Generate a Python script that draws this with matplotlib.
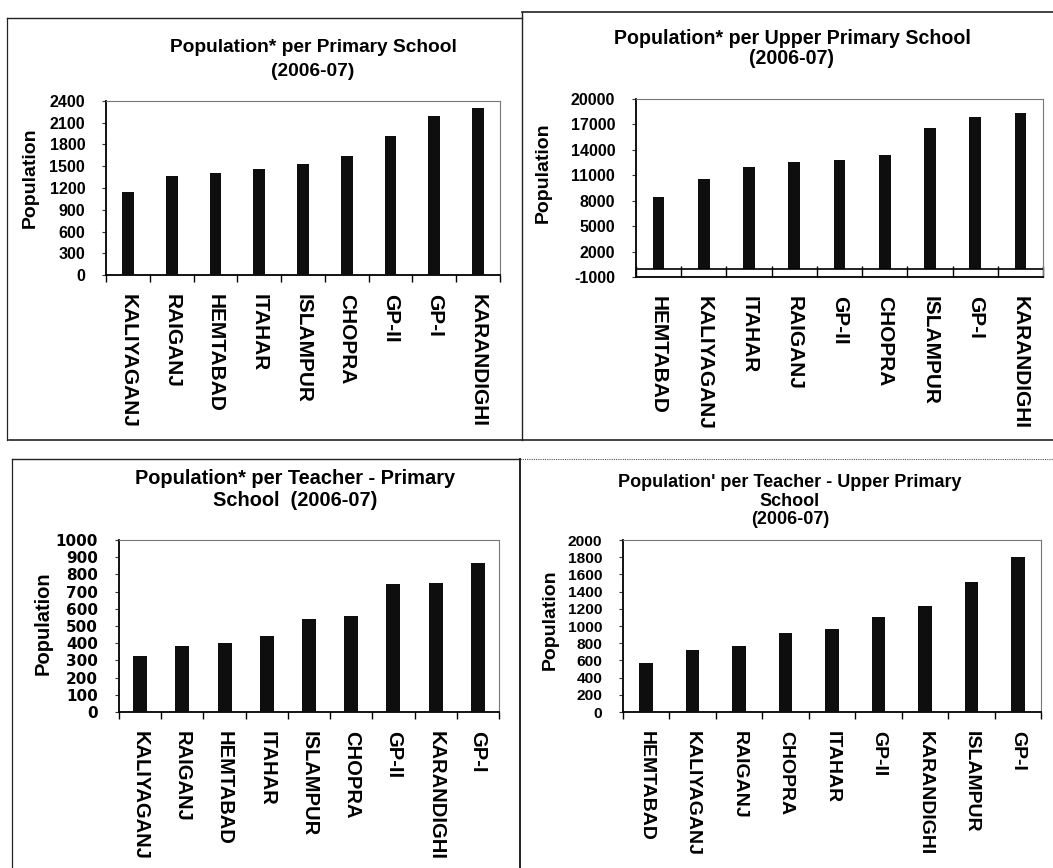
import matplotlib
matplotlib.use("Agg")
import matplotlib.pyplot as plt
from matplotlib import font_manager
from matplotlib.lines import Line2D
import numpy as np

# ---- data -------------------------------------------------------------
cats_ps = ["KALIYAGANJ", "RAIGANJ", "HEMTABAD", "ITAHAR", "ISLAMPUR",
           "CHOPRA", "GP-II", "GP-I", "KARANDIGHI"]
vals_ps = [1150, 1360, 1405, 1465, 1535, 1640, 1915, 2195, 2300]

cats_ups = ["HEMTABAD", "KALIYAGANJ", "ITAHAR", "RAIGANJ", "GP-II",
            "CHOPRA", "ISLAMPUR", "GP-I", "KARANDIGHI"]
vals_ups = [8450, 10550, 12000, 12550, 12800, 13400, 16550, 17900, 18400]

cats_tps = ["KALIYAGANJ", "RAIGANJ", "HEMTABAD", "ITAHAR", "ISLAMPUR",
            "CHOPRA", "GP-II", "KARANDIGHI", "GP-I"]
vals_tps = [325, 384, 403, 440, 540, 560, 745, 752, 868]

cats_tups = ["HEMTABAD", "KALIYAGANJ", "RAIGANJ", "CHOPRA", "ITAHAR",
             "GP-II", "KARANDIGHI", "ISLAMPUR", "GP-I"]
vals_tups = [565, 720, 768, 924, 963, 1108, 1229, 1511, 1804]

ticks_ps = list(range(0, 2401, 300))
ticks_ups = list(range(-1000, 20001, 3000))
ticks_tps = list(range(0, 1001, 100))
ticks_tups = list(range(0, 2001, 200))

# ---- fonts ------------------------------------------------------------
installed = {f.name for f in font_manager.fontManager.ttflist}
NARROW = "Liberation Sans Narrow" if "Liberation Sans Narrow" in installed else "Liberation Sans"
narrow_scale = 1.0 if NARROW == "Liberation Sans Narrow" else 0.85
SANS = "Liberation Sans"

W, H = 1053, 868
fig = plt.figure(figsize=(W / 100, H / 100), dpi=100)
fig.patch.set_facecolor("white")


def axes_px(l, t, r, b):
    return fig.add_axes([l / W, 1 - b / H, (r - l) / W, (b - t) / H])


def fline(x0, y0, x1, y1, **kw):
    fig.add_artist(Line2D([x0 / W, x1 / W], [1 - y0 / H, 1 - y1 / H],
                          transform=fig.transFigure, **kw))


def ftext(x, y, s, **kw):
    fig.text(x / W, 1 - y / H, s, **kw)


def bar_panel(box, cats, vals, ticks, width, tick_font, tick_size,
              tick_weight, lab_size, lab_weight, ylo=None):
    ax = axes_px(*box)
    x = np.arange(len(cats))
    ax.bar(x, vals, width=width, color="#0e0e0e", zorder=3)
    lo = ticks[0] if ylo is None else ylo
    ax.set_ylim(lo, ticks[-1])
    ax.set_xlim(-0.5, len(cats) - 0.5)
    ax.set_yticks(ticks)
    ax.set_yticklabels([str(t) for t in ticks], fontfamily=tick_font,
                       fontsize=tick_size, fontweight=tick_weight)
    ax.set_xticks(x)
    ax.set_xticklabels(cats, rotation=270, fontfamily=SANS,
                       fontsize=lab_size, fontweight=lab_weight,
                       ha="center", va="top")
    ax.tick_params(axis="x", length=0, pad=14)
    # boundary ticks between categories
    ax.set_xticks(np.arange(-0.5, len(cats) + 0.5, 1.0), minor=True)
    ax.tick_params(axis="x", which="minor", length=5, width=1.0,
                   direction="out", color="black")
    ax.tick_params(axis="y", length=3, width=0.8, pad=12, color="#333333")
    for s in ("left", "bottom"):
        ax.spines[s].set_color("black")
        ax.spines[s].set_linewidth(1.3)
    for s in ("top", "right"):
        ax.spines[s].set_color("#777777")
        ax.spines[s].set_linewidth(0.8)
        ax.spines[s].set_linestyle((0, (1, 1)))
    ax.set_facecolor("white")
    return ax


# ---- panel frames -----------------------------------------------------
fc = "#222222"
fline(7, 18, 522, 18, color=fc, lw=1.0)
fline(522, 12, 1053, 12, color=fc, lw=1.2)
fline(7, 18, 7, 440, color=fc, lw=0.9)
fline(522, 12, 522, 440, color=fc, lw=1.0)
fline(9, 440, 1053, 440, color=fc, lw=1.2)
fline(12, 459, 520, 459, color=fc, lw=1.0)
fline(520, 459, 1053, 459, color="#555555", lw=0.8, linestyle=(0, (1, 1)))
fline(12, 459, 12, 868, color=fc, lw=0.9)
fline(520, 459, 520, 868, color=fc, lw=1.4)

# ---- panel 1: population per primary school ---------------------------
bar_panel((106, 101, 500, 275), cats_ps, vals_ps, ticks_ps, 0.27,
          NARROW, 13 * narrow_scale + 0.5, "bold", 15, "bold")
ftext(313, 47, "Population* per Primary School", ha="center", va="center",
      fontfamily=NARROW, fontsize=16.2 * narrow_scale, fontweight="bold")
ftext(313, 72, "(2006-07)", ha="center", va="center",
      fontfamily=NARROW, fontsize=16.2 * narrow_scale, fontweight="bold")
ftext(30, 178, "Population", rotation=90, ha="center", va="center",
      fontfamily=SANS, fontsize=14, fontweight="bold")

# ---- panel 2: population per upper primary school ---------------------
ax2 = bar_panel((636, 99, 1043, 277), cats_ups, vals_ups, ticks_ups, 0.26,
                SANS, 11.5, "bold", 15, "bold")
ax2.axhline(0, color="black", lw=1.2, zorder=4)
ax2.tick_params(axis="x", which="minor", direction="in", length=8)
ftext(792, 39, "Population* per Upper Primary School", ha="center",
      va="center", fontfamily=NARROW, fontsize=16.6 * narrow_scale,
      fontweight="bold")
ftext(792, 59, "(2006-07)", ha="center", va="center",
      fontfamily=NARROW, fontsize=16.6 * narrow_scale, fontweight="bold")
ftext(543, 173, "Population", rotation=90, ha="center", va="center",
      fontfamily=SANS, fontsize=14, fontweight="bold")

# ---- panel 3: population per teacher, primary -------------------------
bar_panel((119, 540, 499, 712), cats_tps, vals_tps, ticks_tps, 0.33,
          "DejaVu Sans", 11, "bold", 14.5, "bold")
ftext(295, 479, "Population* per Teacher - Primary", ha="center",
      va="center", fontfamily=NARROW, fontsize=17 * narrow_scale,
      fontweight="bold")
ftext(295, 501, "School  (2006-07)", ha="center", va="center",
      fontfamily=NARROW, fontsize=17 * narrow_scale, fontweight="bold")
ftext(43, 623, "Population", rotation=90, ha="center", va="center",
      fontfamily=SANS, fontsize=14.5, fontweight="bold")

# ---- panel 4: population per teacher, upper primary -------------------
bar_panel((623, 540, 1041, 712), cats_tups, vals_tups, ticks_tups, 0.29,
          NARROW, 12.5 * narrow_scale + 0.5, "bold", 14, "bold")
ftext(790, 483, "Population' per Teacher - Upper Primary", ha="center",
      va="center", fontfamily=SANS, fontsize=13, fontweight="bold")
ftext(790, 501, "School", ha="center", va="center",
      fontfamily=SANS, fontsize=13, fontweight="bold")
ftext(790, 520, "(2006-07)", ha="center", va="center",
      fontfamily=SANS, fontsize=13, fontweight="bold")
ftext(550, 620, "Population", rotation=90, ha="center", va="center",
      fontfamily=SANS, fontsize=14, fontweight="bold")

fig.savefig("out.png", dpi=100, facecolor="white")
